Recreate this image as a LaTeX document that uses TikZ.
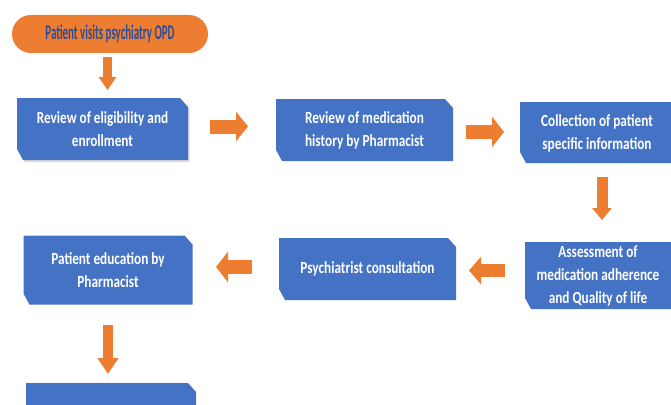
\documentclass[tikz,border=0pt]{standalone}
\usepackage{fontspec}
\newfontfamily\boxfont[FakeStretch=0.78]{Carlito}
\newfontfamily\ovalfont[FakeStretch=0.52]{Carlito}
\usetikzlibrary{arrows.meta}
\definecolor{boxblue}{HTML}{4472C4}
\definecolor{arrorange}{HTML}{ED7D31}
\definecolor{ovaltext}{HTML}{2B4C9B}
\tikzset{
  stepbox/.style={rectangle, draw=none, inner sep=0pt, text=white, align=center,
    font=\boxfont\bfseries\fontsize{17}{23}\selectfont,
    path picture={\fill[boxblue]
      (path picture bounding box.north west)
      -- ([xshift=-8pt]path picture bounding box.north east)
      -- ([yshift=-9pt]path picture bounding box.north east)
      -- (path picture bounding box.south east)
      -- ([xshift=6pt]path picture bounding box.south west)
      -- ([yshift=11pt]path picture bounding box.south west) -- cycle;}},
  boxtext/.style={text=white, align=center, inner sep=0pt,
    font=\boxfont\bfseries\fontsize{17}{23}\selectfont},
  oval/.style={rectangle, rounded corners=19pt, fill=arrorange, draw=none,
    minimum width=196pt, minimum height=38pt, inner sep=0pt, text=ovaltext,
    font=\ovalfont\bfseries\fontsize{21}{22}\selectfont},
}
\begin{document}
\begin{tikzpicture}[x=1pt,y=-1pt]
\useasboundingbox (0,0) rectangle (671,404);
\clip (0,0) rectangle (671,404);
\node[oval] (start) at (110,34) {Patient visits psychiatry OPD};
\fill[black!14] (19,100) -- (181,100) -- (189.5,109) -- (189.5,162) -- (25,162) -- (19,151) -- cycle;
\node[stepbox, minimum width=171pt, minimum height=62pt] (b1) at (102.5,129) {Review of eligibility and\\enrollment};
\node[stepbox, minimum width=177pt, minimum height=62pt] (b2) at (364.5,130) {Review of medication\\history by Pharmacist};
\node[stepbox, minimum width=170pt, minimum height=61pt] (b3) at (605,132.5) {};
\node[boxtext] (t3) at (597,133.5) {Collection of patient\\specific information};
\node[stepbox, minimum width=170pt, minimum height=67pt] (b4) at (610,275.5) {};
\node[boxtext] (t4) at (598,275.5) {Assessment of\\medication adherence\\and Quality of life};
\node[stepbox, minimum width=177pt, minimum height=62pt] (b5) at (367.5,269) {Psychiatrist consultation};
\node[stepbox, minimum width=169pt, minimum height=69pt] (b6) at (108,270) {Patient education by\\Pharmacist};
\node[stepbox, minimum width=170pt, minimum height=62pt] (b7) at (111,414) {};
% arrows
\coordinate (a0s) at (107.5,57); \coordinate (a0e) at (107.5,90);
\draw[draw=arrorange, line width=9.5pt, -{Triangle[length=13pt,width=17pt]}] (a0s) -- (a0e);
\coordinate (a1s) at (210,126.5); \coordinate (a1e) at (248,126.5);
\draw[draw=arrorange, line width=14pt, -{Triangle[length=12pt,width=29pt]}] (a1s) -- (a1e);
\coordinate (a2s) at (466,132); \coordinate (a2e) at (504,132);
\draw[draw=arrorange, line width=14pt, -{Triangle[length=12pt,width=30pt]}] (a2s) -- (a2e);
\coordinate (a3s) at (602,177); \coordinate (a3e) at (602,220);
\draw[draw=arrorange, line width=11pt, -{Triangle[length=12pt,width=19pt]}] (a3s) -- (a3e);
\coordinate (a4s) at (505,270.5); \coordinate (a4e) at (469,270.5);
\draw[draw=arrorange, line width=13pt, -{Triangle[length=12pt,width=27pt]}] (a4s) -- (a4e);
\coordinate (a5s) at (252,267); \coordinate (a5e) at (216,267);
\draw[draw=arrorange, line width=14pt, -{Triangle[length=12pt,width=30pt]}] (a5s) -- (a5e);
\coordinate (a6s) at (108,325); \coordinate (a6e) at (108,374);
\draw[draw=arrorange, line width=10pt, -{Triangle[length=16pt,width=20pt]}] (a6s) -- (a6e);
\end{tikzpicture}
\end{document}
